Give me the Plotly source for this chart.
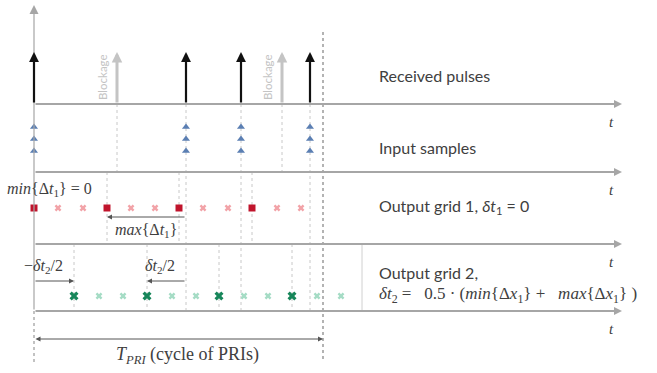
import plotly.graph_objects as go

# ---- data (time units; origin of the time axis = 0) ----
pulse_times = [0, 152, 207, 276]
blocked_times = [83, 248]
sample_levels = [127, 139, 151]
grid1_times = [0, 24, 49, 73, 97, 121, 145, 169, 194, 218, 243, 267]
grid1_dark = [0, 73, 145, 218]
grid2_times = [40, 65, 89, 113, 138, 162, 185, 210, 234, 258, 283, 307]
grid2_dark = [40, 113, 185, 258]
t_pri = 289
extra_line = 328
axis_end = 588
baselines = [104, 172, 244, 311]
pulse_top = 52
grid1_y = 208
grid2_y = 296
lane_labels = ["Received pulses", "Input samples", "Output grid 1, <i>δt</i><sub>1</sub> = 0",
               "Output grid 2,",
               "<i>δt</i><sub>2</sub> =&nbsp;&nbsp; 0.5 · (<i>min</i>{Δ<i>x</i><sub>1</sub>} +&nbsp;&nbsp; <i>max</i>{Δ<i>x</i><sub>1</sub>}&nbsp;)"]
lane_label_y = [75, 147, 206, 272, 295]

fig = go.Figure()
SERIF = "Liberation Serif"
SANS = "Lato"
GRAY = "#a6a6a6"
TXT = "#404040"

def vline(x, y0, y1, color="#c8c8c8", dash="dot", width=1):
    fig.add_shape(type="line", x0=x, x1=x, y0=y0, y1=y1, xref="x", yref="y",
                  line=dict(color=color, dash=dash, width=width), layer="below")

def arrow(x, y, ax, ay, color, width, head=2, size=1.0, side="end"):
    fig.add_annotation(x=x, y=y, ax=ax, ay=ay, xref="x", yref="y", axref="x", ayref="y",
                       showarrow=True, arrowhead=head, arrowsize=size, arrowwidth=width,
                       arrowcolor=color, arrowside=side, text="")

def text(x, y, s, size=13, color=TXT, family=SANS, xanchor="left", angle=0):
    fig.add_annotation(x=x, y=y, xref="x", yref="y", text=s, showarrow=False,
                       font=dict(size=size, color=color, family=family),
                       xanchor=xanchor, yanchor="middle", textangle=angle)

# dotted guide lines
for t in pulse_times[1:]:
    vline(t, baselines[0], baselines[3])
for t in blocked_times:
    vline(t, baselines[0], baselines[1])
for t in grid1_dark[1:]:
    vline(t, baselines[1], baselines[2])
for t in grid2_dark:
    vline(t, baselines[2], baselines[3])
vline(extra_line, baselines[2], baselines[3], color="#d0d0d0", dash="solid")
vline(t_pri, 32, 362, color="#9a9a9a", dash="dot", width=1.5)
vline(0, baselines[3], 362, color="#9a9a9a", dash="dot", width=1.2)

# vertical axis
arrow(0, 5, 0, baselines[3], GRAY, 1.2, head=2, size=1.5)

# baselines with arrows and t labels
for y in baselines:
    arrow(axis_end, y, 0, y, GRAY, 2, head=2, size=0.8)
    text(axis_end - 11, y + 18, "<i>t</i>", size=15, family=SERIF, xanchor="center")

# pulses
for t in pulse_times:
    arrow(t, pulse_top, t, baselines[0], "#111111", 2.2, head=2, size=0.9)
for t in blocked_times:
    arrow(t, pulse_top, t, baselines[0], "#c4c4c4", 3, head=2, size=0.7)
    text(t - 15, 77, "Blockage", size=11.5, color="#c4c4c4", xanchor="center", angle=-90)

# input samples
for y in sample_levels:
    fig.add_trace(go.Scatter(x=pulse_times, y=[y] * len(pulse_times), mode="markers",
                             marker=dict(symbol="triangle-up", size=7, color="#5b7fb3"),
                             showlegend=False, hoverinfo="skip"))

# output grid 1
g1_light = [t for t in grid1_times if t not in grid1_dark]
fig.add_trace(go.Scatter(x=g1_light, y=[grid1_y] * len(g1_light), mode="markers",
                         marker=dict(symbol="x", size=6, color="#f2a3a8", line=dict(width=0)),
                         showlegend=False, hoverinfo="skip"))
fig.add_trace(go.Scatter(x=grid1_dark, y=[grid1_y] * len(grid1_dark), mode="markers",
                         marker=dict(symbol="square", size=7, color="#c0142c"),
                         showlegend=False, hoverinfo="skip"))

# output grid 2
g2_light = [t for t in grid2_times if t not in grid2_dark]
fig.add_trace(go.Scatter(x=g2_light, y=[grid2_y] * len(g2_light), mode="markers",
                         marker=dict(symbol="x", size=6, color="#a5dcc5", line=dict(width=0)),
                         showlegend=False, hoverinfo="skip"))
fig.add_trace(go.Scatter(x=grid2_dark, y=[grid2_y] * len(grid2_dark), mode="markers",
                         marker=dict(symbol="x", size=8, color="#17865a", line=dict(width=0)),
                         showlegend=False, hoverinfo="skip"))

# annotations grid 1
text(-29, 189, "<i>min</i>{Δ<i>t</i><sub>1</sub>} = 0", size=16, family=SERIF)
arrow(grid1_dark[1], 217, pulse_times[1], 217, "#555555", 1, head=2, size=1)
text(79, 230, "<i>max</i>{Δ<i>t</i><sub>1</sub>}", size=16, family=SERIF)

# annotations grid 2
text(-12, 266, "−<i>δt</i><sub>2</sub>/2", size=16, family=SERIF)
arrow(grid2_dark[0], 281, 0, 281, "#555555", 1, head=2, size=1)
text(109, 266, "<i>δt</i><sub>2</sub>/2", size=16, family=SERIF)
arrow(grid2_dark[1], 281, pulse_times[1], 281, "#555555", 1, head=2, size=1)

# T_PRI
arrow(t_pri, 339, 0, 339, "#555555", 1, head=2, size=1, side="end+start")
text(t_pri / 2 + 9, 355, "<i>T</i><sub><i>PRI</i></sub> (cycle of PRIs)", size=18, family=SERIF, xanchor="center")

# lane labels
for s, y in zip(lane_labels, lane_label_y):
    is_math = s.startswith("<i>δt")
    text(343, y, s, size=17 if is_math else 16, family=SERIF if is_math else SANS)

fig.update_layout(
    width=657, height=373, margin=dict(l=0, r=0, t=0, b=0),
    paper_bgcolor="white", plot_bgcolor="white",
    xaxis=dict(range=[-34, 623], visible=False, fixedrange=True),
    yaxis=dict(range=[373, 0], visible=False, fixedrange=True),
    showlegend=False,
)
fig.write_html("out.html")
